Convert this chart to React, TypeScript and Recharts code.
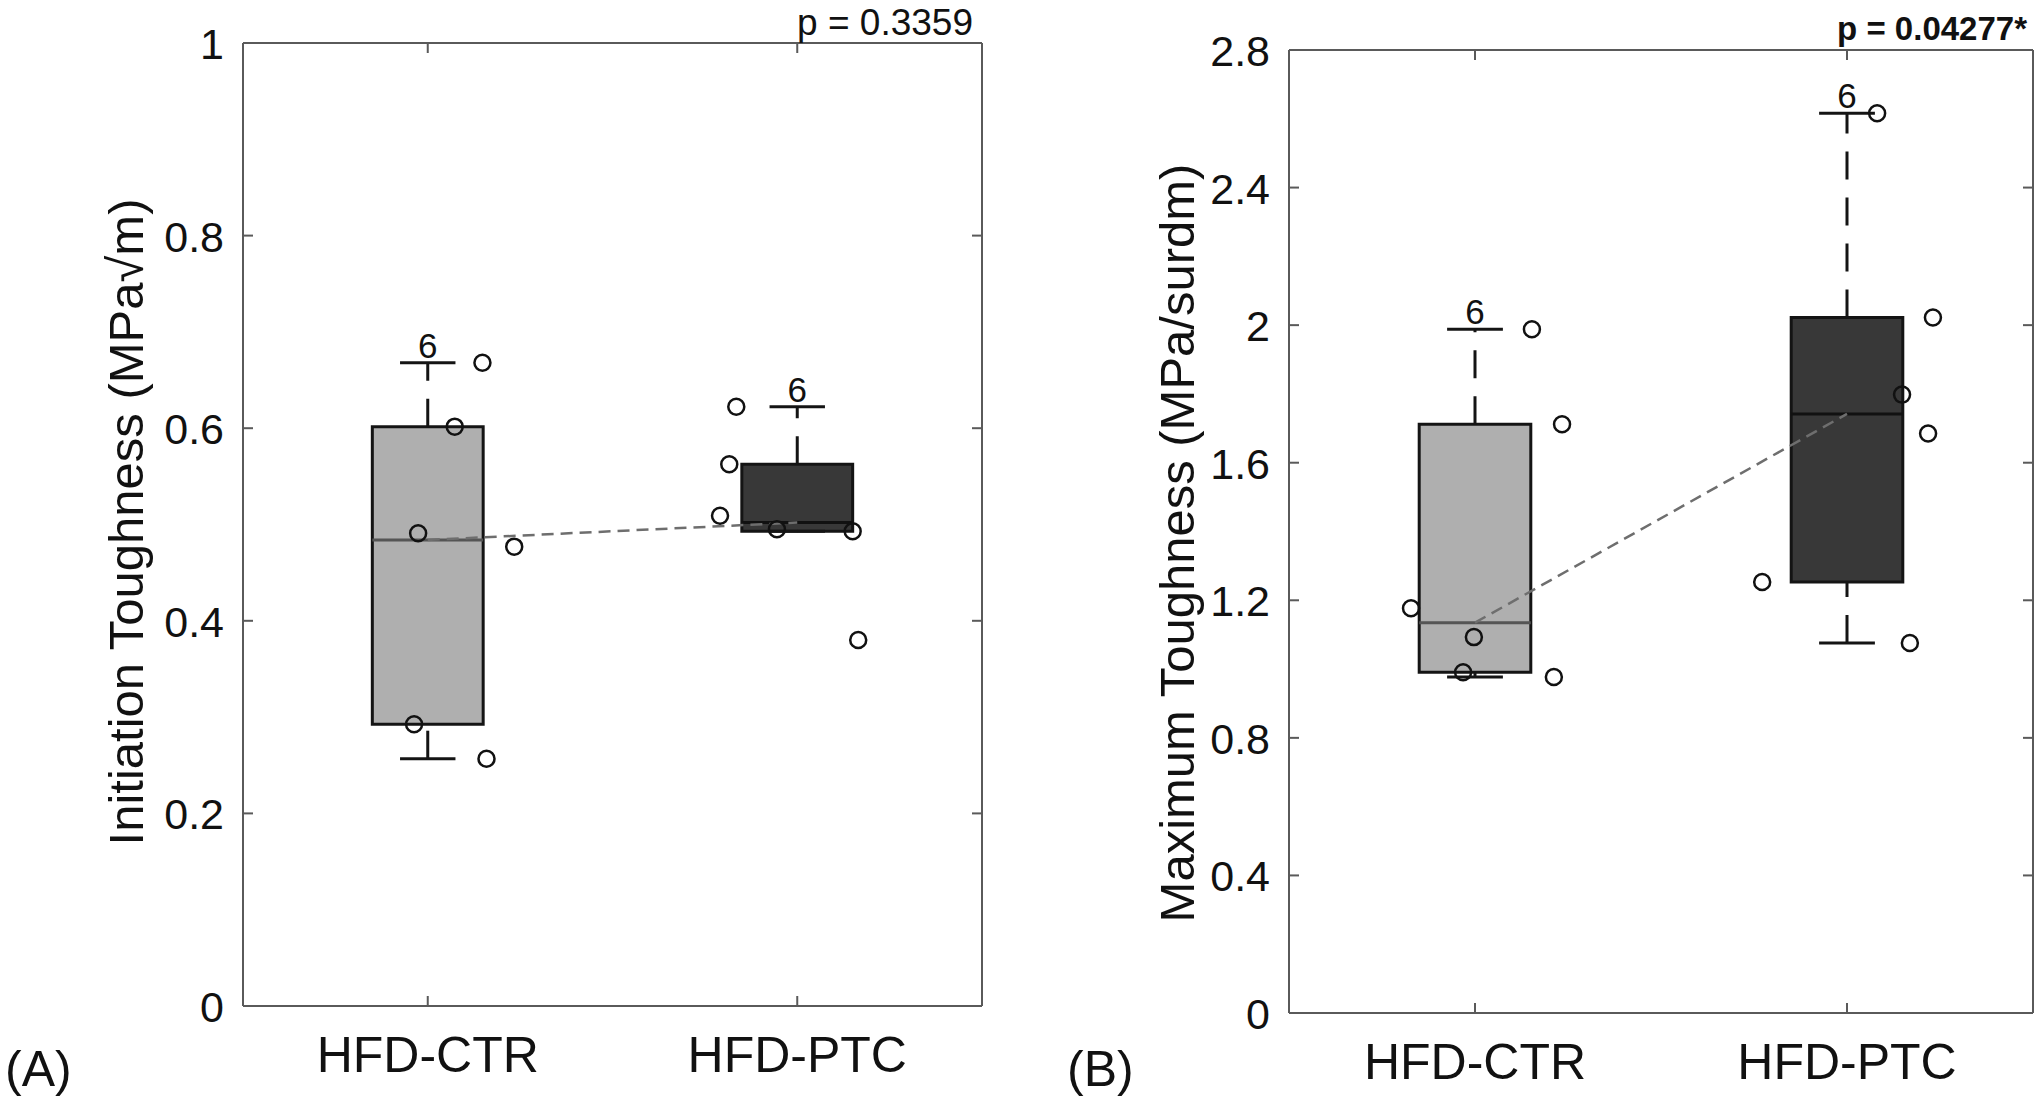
import React from "react";
import {
     ComposedChart,
     XAxis,
     YAxis,
     Scatter,
     Line,
     ReferenceArea,
     ReferenceLine,
     Label,
} from "recharts";

// group names and sample sizes
const groups = ["HFD-CTR", "HFD-PTC"];
const groupN = [6, 6];

// (A) initiation toughness
const initTicks = [0, 0.2, 0.4, 0.6, 0.8, 1];
const initQ1 = [0.2925, 0.493];
const initMedian = [0.484, 0.502];
const initQ3 = [0.6016, 0.5625];
const initLow = [0.2568, 0.493];
const initHigh = [0.668, 0.6223];
const initCtrVals = [0.668, 0.6016, 0.491, 0.477, 0.2925, 0.2568];
const initCtrJitter = [0.148, 0.073, -0.026, 0.234, -0.037, 0.159];
const initPtcVals = [0.6223, 0.5625, 0.509, 0.495, 0.493, 0.38];
const initPtcJitter = [-0.165, -0.184, -0.209, -0.055, 0.15, 0.165];
const initP = "p = 0.3359";

// (B) maximum toughness
const maxTicks = [0, 0.4, 0.8, 1.2, 1.6, 2, 2.4, 2.8];
const maxQ1 = [0.991, 1.253];
const maxMedian = [1.135, 1.742];
const maxQ3 = [1.712, 2.022];
const maxLow = [0.977, 1.076];
const maxHigh = [1.988, 2.616];
const maxCtrVals = [1.988, 1.712, 1.177, 1.093, 0.991, 0.977];
const maxCtrJitter = [0.153, 0.234, -0.172, -0.003, -0.032, 0.212];
const maxPtcVals = [2.616, 2.022, 1.798, 1.685, 1.253, 1.076];
const maxPtcJitter = [0.081, 0.231, 0.148, 0.218, -0.228, 0.169];
const maxP = "p = 0.04277*";

const FONT = '"Liberation Sans", Arial, Helvetica, sans-serif';
const AXIS = "#5a5a5a";
const EDGE = "#141414";
const BOX_HALF = 0.15;
const CAP_HALF = 0.075;
const boxFill = ["#afafaf", "#383838"];
const medianColor = ["#555555", "#111111"];

const ring = (p: any) => (
     <circle cx={p.cx} cy={p.cy} r={8} fill="none" stroke="#111" strokeWidth={2.5} />
);

const LeftTick = (p: any) => (
     <g>
          <line x1={p.x} x2={p.x + 10} y1={p.y} y2={p.y} stroke={AXIS} strokeWidth={2} />
          <text x={p.x - 19} y={p.y + 16} textAnchor="end" fontSize={43} fill="#111" fontFamily={FONT}>
               {String(p.payload.value)}
          </text>
     </g>
);
const RightTick = (p: any) => (
     <line x1={p.x} x2={p.x - 10} y1={p.y} y2={p.y} stroke={AXIS} strokeWidth={2} />
);
const TopTick = (p: any) => (
     <line x1={p.x} x2={p.x} y1={p.y} y2={p.y + 10} stroke={AXIS} strokeWidth={2} />
);
const BottomTick = (p: any) => (
     <g>
          <line x1={p.x} x2={p.x} y1={p.y} y2={p.y - 10} stroke={AXIS} strokeWidth={2} />
          <text x={p.x} y={p.y + 66} textAnchor="middle" fontSize={50} fill="#111" fontFamily={FONT}>
               {groups[p.payload.value - 1]}
          </text>
     </g>
);

interface PanelProps {
     left: number;
     width: number;
     yAxisW: number;
     rightW: number;
     topH: number;
     bottomH: number;
     ticks: number[];
     q1: number[];
     median: number[];
     q3: number[];
     low: number[];
     high: number[];
     ctrVals: number[];
     ctrJitter: number[];
     ptcVals: number[];
     ptcJitter: number[];
     pText: string;
     pBold: boolean;
     pRightGap: number;
     pUp: number;
     letter: string;
     letterX: number;
     yLabel: string;
     yLabelX: number;
     yLabelY: number;
}

const BoxPanel: React.FC<PanelProps> = (props) => {
     const H = 1103;
     const ctrPts = props.ctrVals.map((v, i) => ({ x: 1 + props.ctrJitter[i], y: v }));
     const ptcPts = props.ptcVals.map((v, i) => ({ x: 2 + props.ptcJitter[i], y: v }));
     const medLine = props.median.map((m, i) => ({ x: i + 1, y: m }));
     const domainY = [props.ticks[0], props.ticks[props.ticks.length - 1]];
     const plotRight = props.width - props.rightW;
     return (
          <div style={{ position: "absolute", left: props.left, top: 0 }}>
               <ComposedChart width={props.width} height={H} margin={{ top: 0, right: 0, bottom: 0, left: 0 }}>
                    <XAxis
                         type="number"
                         dataKey="x"
                         domain={[0.5, 2.5]}
                         ticks={[1, 2]}
                         interval={0}
                         allowDataOverflow
                         height={props.bottomH}
                         axisLine={{ stroke: AXIS, strokeWidth: 2 }}
                         tickLine={false}
                         tickSize={0}
                         tickMargin={0}
                         tick={BottomTick}
                    >
                         <Label
                              content={() => (
                                   <text x={props.letterX} y={1086} fontSize={50} fill="#111" fontFamily={FONT}>
                                        {props.letter}
                                   </text>
                              )}
                         />
                    </XAxis>
                    <XAxis
                         xAxisId="top"
                         orientation="top"
                         type="number"
                         dataKey="x"
                         domain={[0.5, 2.5]}
                         ticks={[1, 2]}
                         interval={0}
                         allowDataOverflow
                         height={props.topH}
                         axisLine={{ stroke: AXIS, strokeWidth: 2 }}
                         tickLine={false}
                         tickSize={0}
                         tickMargin={0}
                         tick={TopTick}
                    >
                         <Label
                              content={() => (
                                   <text
                                        x={plotRight - props.pRightGap}
                                        y={props.topH - props.pUp}
                                        textAnchor="end"
                                        fontSize={props.pBold ? 33 : 37}
                                        fontWeight={props.pBold ? "bold" : "normal"}
                                        fill="#111"
                                        fontFamily={FONT}
                                   >
                                        {props.pText}
                                   </text>
                              )}
                         />
                    </XAxis>
                    <YAxis
                         type="number"
                         dataKey="y"
                         domain={domainY}
                         ticks={props.ticks}
                         interval={0}
                         allowDataOverflow
                         width={props.yAxisW}
                         axisLine={{ stroke: AXIS, strokeWidth: 2 }}
                         tickLine={false}
                         tickSize={0}
                         tickMargin={0}
                         tick={LeftTick}
                    >
                         <Label
                              content={() => (
                                   <text
                                        x={props.yLabelX}
                                        y={props.yLabelY}
                                        transform={`rotate(-90 ${props.yLabelX} ${props.yLabelY})`}
                                        textAnchor="middle"
                                        fontSize={49}
                                        fill="#111"
                                        fontFamily={FONT}
                                   >
                                        {props.yLabel}
                                   </text>
                              )}
                         />
                    </YAxis>
                    <YAxis
                         yAxisId="right"
                         orientation="right"
                         type="number"
                         domain={domainY}
                         ticks={props.ticks}
                         interval={0}
                         allowDataOverflow
                         width={props.rightW}
                         axisLine={{ stroke: AXIS, strokeWidth: 2 }}
                         tickLine={false}
                         tickSize={0}
                         tickMargin={0}
                         tick={RightTick}
                    />

                    {groups.map((g, i) => (
                         <ReferenceArea
                              key={`box-${g}`}
                              x1={i + 1 - BOX_HALF}
                              x2={i + 1 + BOX_HALF}
                              y1={props.q1[i]}
                              y2={props.q3[i]}
                              fill={boxFill[i]}
                              fillOpacity={1}
                              stroke={EDGE}
                              strokeWidth={3}
                         />
                    ))}
                    {groups.map((g, i) => (
                         <ReferenceLine
                              key={`wu-${g}`}
                              segment={[{ x: i + 1, y: props.q3[i] }, { x: i + 1, y: props.high[i] }]}
                              stroke={EDGE}
                              strokeWidth={3}
                              strokeDasharray="28 18"
                         />
                    ))}
                    {groups.map((g, i) => (
                         <ReferenceLine
                              key={`wl-${g}`}
                              segment={[{ x: i + 1, y: props.low[i] }, { x: i + 1, y: props.q1[i] }]}
                              stroke={EDGE}
                              strokeWidth={3}
                              strokeDasharray="28 18"
                         />
                    ))}
                    {groups.map((g, i) => (
                         <ReferenceLine
                              key={`cu-${g}`}
                              segment={[{ x: i + 1 - CAP_HALF, y: props.high[i] }, { x: i + 1 + CAP_HALF, y: props.high[i] }]}
                              stroke={EDGE}
                              strokeWidth={3}
                              label={{ value: String(groupN[i]), position: "top", offset: 5, fontSize: 35, fill: "#111", fontFamily: FONT }}
                         />
                    ))}
                    {groups.map((g, i) => (
                         <ReferenceLine
                              key={`cl-${g}`}
                              segment={[{ x: i + 1 - CAP_HALF, y: props.low[i] }, { x: i + 1 + CAP_HALF, y: props.low[i] }]}
                              stroke={EDGE}
                              strokeWidth={3}
                         />
                    ))}
                    {groups.map((g, i) => (
                         <ReferenceLine
                              key={`med-${g}`}
                              segment={[{ x: i + 1 - BOX_HALF, y: props.median[i] }, { x: i + 1 + BOX_HALF, y: props.median[i] }]}
                              stroke={medianColor[i]}
                              strokeWidth={3}
                         />
                    ))}
                    <Line
                         data={medLine}
                         dataKey="y"
                         type="linear"
                         stroke="#6e6e6e"
                         strokeWidth={2.5}
                         strokeDasharray="12 7"
                         dot={false}
                         activeDot={false}
                         isAnimationActive={false}
                    />
                    <Scatter data={ctrPts} dataKey="y" shape={ring} isAnimationActive={false} />
                    <Scatter data={ptcPts} dataKey="y" shape={ring} isAnimationActive={false} />
               </ComposedChart>
          </div>
     );
};

export default function App() {
     return (
          <div
               style={{
                    position: "absolute",
                    left: 0,
                    top: 0,
                    width: 2040,
                    height: 1103,
                    background: "#fff",
                    fontFamily: FONT,
               }}
          >
               <BoxPanel
                    left={0}
                    width={1000}
                    yAxisW={243}
                    rightW={18}
                    topH={43}
                    bottomH={97}
                    ticks={initTicks}
                    q1={initQ1}
                    median={initMedian}
                    q3={initQ3}
                    low={initLow}
                    high={initHigh}
                    ctrVals={initCtrVals}
                    ctrJitter={initCtrJitter}
                    ptcVals={initPtcVals}
                    ptcJitter={initPtcJitter}
                    pText={initP}
                    pBold={false}
                    pRightGap={9}
                    pUp={8}
                    letter="(A)"
                    letterX={5}
                    yLabel="Initiation Toughness (MPa√m)"
                    yLabelX={143}
                    yLabelY={522}
               />
               <BoxPanel
                    left={1000}
                    width={1040}
                    yAxisW={289}
                    rightW={7}
                    topH={50}
                    bottomH={90}
                    ticks={maxTicks}
                    q1={maxQ1}
                    median={maxMedian}
                    q3={maxQ3}
                    low={maxLow}
                    high={maxHigh}
                    ctrVals={maxCtrVals}
                    ctrJitter={maxCtrJitter}
                    ptcVals={maxPtcVals}
                    ptcJitter={maxPtcJitter}
                    pText={maxP}
                    pBold={true}
                    pRightGap={6}
                    pUp={10}
                    letter="(B)"
                    letterX={67}
                    yLabel="Maximum Toughness (MPa/surdm)"
                    yLabelX={194}
                    yLabelY={543}
               />
          </div>
     );
}
